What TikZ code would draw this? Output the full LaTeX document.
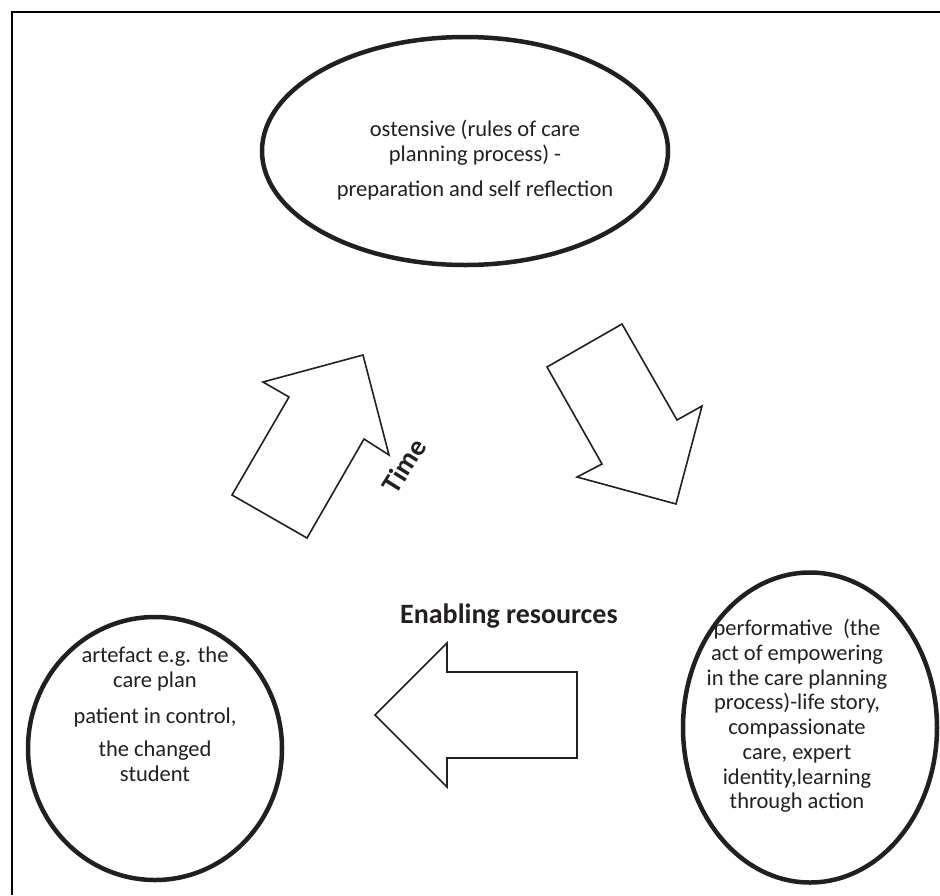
\documentclass[tikz,border=0pt]{standalone}
\usepackage{fontspec}
\setmainfont{Carlito}
\usetikzlibrary{shapes.geometric}
\definecolor{ink}{HTML}{231F20}
\tikzset{
  oval/.style={draw=ink, line width=4.5pt, ellipse, inner sep=0pt},
  blockarrow/.style={draw=ink, line width=1.6pt, line join=miter, fill=white},
  bodytext/.style={text=ink, align=center, inner sep=0pt, font=\fontsize{22.5}{24.7}\selectfont},
  boldtext/.style={text=ink, inner sep=0pt, font=\fontsize{28}{32}\selectfont\bfseries},
}
\begin{document}
\begin{tikzpicture}[x=1pt,y=-1pt]
\useasboundingbox (0,0) rectangle (940,895);
% frame
\draw[black, line width=2pt] (11.5,895) -- (11.5,12) -- (940,12);
% ellipses
\node[oval, minimum width=406pt, minimum height=228pt] (ost) at (465,151) {};
\node[oval, minimum width=254pt, minimum height=263pt] (art) at (155,748.5) {};
\node[oval, minimum width=254pt, minimum height=310pt] (perf) at (810,727.5) {};
% texts
\node[bodytext] (ostt) at (475,160) {ostensive (rules of care\\planning process) -\\[10pt]preparation and self reflection};
\node[bodytext] (artt) at (155,714) {artefact e.g. the\\care plan\\[12pt]patient in control,\\[8pt]the changed\\student};
\node[bodytext] (perft) at (797,716) {performative\ \ (the\\act of empowering\\in the care planning\\process)-life story,\\compassionate\\care, expert\\identity,learning\\through action};
% block arrows
\draw[blockarrow] (363,355) -- (389,455) -- (364,439) -- (307,538) -- (232,495) -- (289,397) -- (263,382) -- cycle;
\draw[blockarrow] (622,324) -- (547,367) -- (602,464) -- (577,477) -- (676,504) -- (702,406) -- (677,420) -- cycle;
\draw[blockarrow] (375,715) -- (447,643) -- (447,672) -- (577,672) -- (577,758) -- (447,758) -- (447,787) -- cycle;
% labels
\node[boldtext, rotate=58] (time) at (404,466) {Time};
\node[boldtext, anchor=base west] (enab) at (400,623) {Enabling resources};
\end{tikzpicture}
\end{document}
